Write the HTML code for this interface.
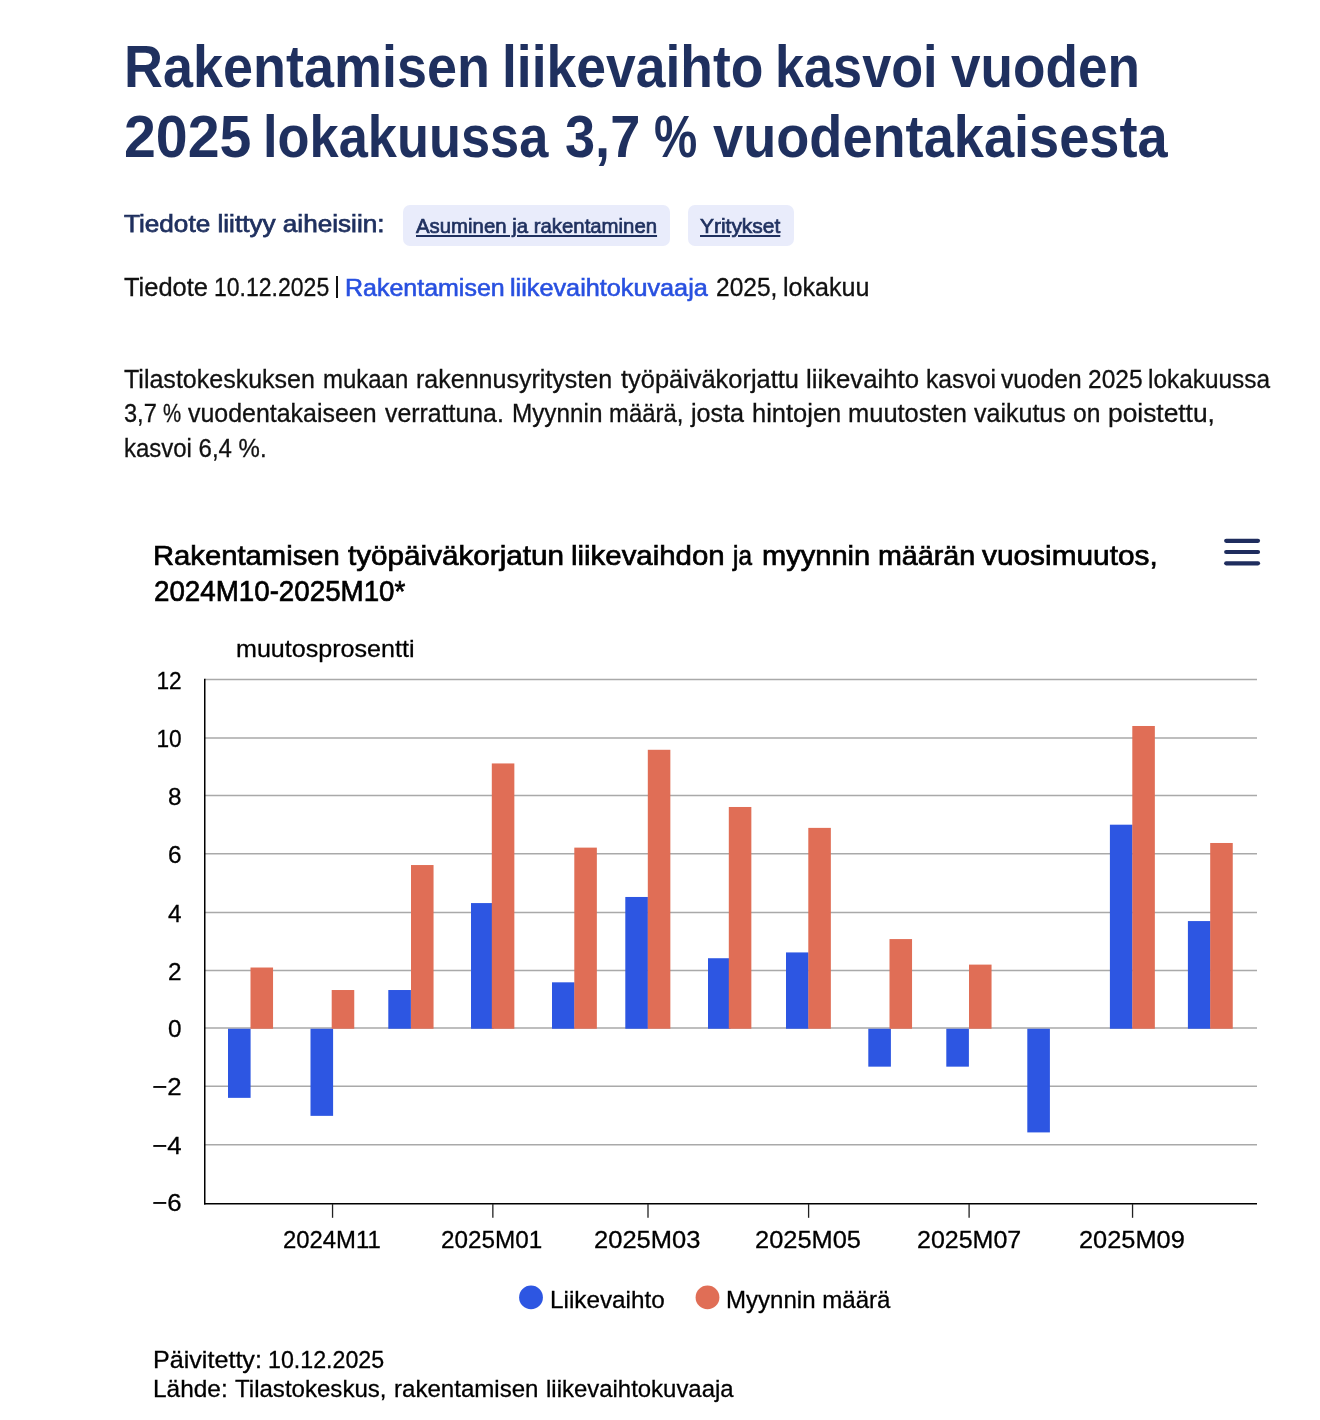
<!DOCTYPE html>
<html lang="fi"><head><meta charset="utf-8"><title>Rakentamisen liikevaihto</title>
<style>
html,body{margin:0;padding:0;background:#fff}
body{width:1320px;height:1420px;position:relative;overflow:hidden;font-family:"Liberation Sans",sans-serif;}
.t{position:absolute;white-space:nowrap;line-height:0;transform-origin:0 0;margin:0;padding:0;text-decoration:none;display:block}
.pill{position:absolute;background:#e9ecfb;border-radius:7px}
svg{position:absolute;left:0;top:0}
svg text{font-family:"Liberation Sans",sans-serif;}
#page{position:absolute;left:0;top:0;width:1320px;height:1420px;will-change:transform}
</style></head><body><div id="page">
<div class="pill" style="left:403px;top:205px;width:266.5px;height:41px"></div>
<div class="pill" style="left:688px;top:205px;width:105.7px;height:41px"></div>
<div style="position:absolute;left:335.9px;top:276px;width:2.3px;height:22px;background:#111"></div>
<div class="t" style="left:124.07px;top:67.00px;font-size:59.4px;font-weight:700;color:#1f305f;transform:scaleX(0.9086);">Rakentamisen</div>
<div class="t" style="left:501.90px;top:67.00px;font-size:59.4px;font-weight:700;color:#1f305f;transform:scaleX(0.9001);">liikevaihto</div>
<div class="t" style="left:775.48px;top:67.00px;font-size:59.4px;font-weight:700;color:#1f305f;transform:scaleX(0.8794);">kasvoi</div>
<div class="t" style="left:951.30px;top:67.00px;font-size:59.4px;font-weight:700;color:#1f305f;transform:scaleX(0.8947);">vuoden</div>
<div class="t" style="left:123.57px;top:137.00px;font-size:59.4px;font-weight:700;color:#1f305f;transform:scaleX(0.9644);">2025</div>
<div class="t" style="left:263.27px;top:137.00px;font-size:59.4px;font-weight:700;color:#1f305f;transform:scaleX(0.8821);">lokakuussa</div>
<div class="t" style="left:564.59px;top:137.00px;font-size:59.4px;font-weight:700;color:#1f305f;transform:scaleX(0.9116);">3,7</div>
<div class="t" style="left:653.68px;top:137.00px;font-size:59.4px;font-weight:700;color:#1f305f;transform:scaleX(0.8196);">%</div>
<div class="t" style="left:712.50px;top:137.00px;font-size:59.4px;font-weight:700;color:#1f305f;transform:scaleX(0.9121);">vuodentakaisesta</div>
<b class="t" style="left:124.40px;top:224.00px;font-size:24.8px;font-weight:400;color:#1f305f;transform:scaleX(1.0540);-webkit-text-stroke:0.75px #1f305f;">Tiedote liittyy aiheisiin:</b>
<a class="t" style="left:416.34px;top:226.00px;font-size:20.8px;font-weight:400;color:#1f305f;transform:scaleX(0.9790);-webkit-text-stroke:0.7px #1f305f;text-decoration:underline;text-decoration-thickness:2px;text-underline-offset:2.2px;">Asuminen ja rakentaminen</a>
<a class="t" style="left:700.15px;top:226.00px;font-size:20.8px;font-weight:400;color:#1f305f;transform:scaleX(1.0067);-webkit-text-stroke:0.7px #1f305f;text-decoration:underline;text-decoration-thickness:2px;text-underline-offset:2.2px;">Yritykset</a>
<span class="t" style="left:124.35px;top:287.00px;font-size:25.0px;font-weight:400;color:#111;transform:scaleX(1.0189);-webkit-text-stroke:0.3px #111;">Tiedote</span>
<span class="t" style="left:213.72px;top:287.00px;font-size:25.0px;font-weight:400;color:#111;transform:scaleX(0.9205);-webkit-text-stroke:0.3px #111;">10.12.2025</span>
<a class="t" style="left:344.69px;top:288.00px;font-size:24.8px;font-weight:400;color:#2850e0;transform:scaleX(1.0076);-webkit-text-stroke:0.6px #2850e0;">Rakentamisen</a>
<a class="t" style="left:510.49px;top:288.00px;font-size:24.8px;font-weight:400;color:#2850e0;transform:scaleX(1.0177);-webkit-text-stroke:0.6px #2850e0;">liikevaihtokuvaaja</a>
<span class="t" style="left:715.87px;top:287.00px;font-size:25.0px;font-weight:400;color:#111;transform:scaleX(0.9814);-webkit-text-stroke:0.3px #111;">2025,</span>
<span class="t" style="left:783.05px;top:287.00px;font-size:25.0px;font-weight:400;color:#111;transform:scaleX(1.0040);-webkit-text-stroke:0.3px #111;">lokakuu</span>
<span class="t" style="left:123.75px;top:379.00px;font-size:25.0px;font-weight:400;color:#111;transform:scaleX(1.0004);-webkit-text-stroke:0.3px #111;">Tilastokeskuksen</span>
<span class="t" style="left:322.79px;top:379.00px;font-size:25.0px;font-weight:400;color:#111;transform:scaleX(0.9584);-webkit-text-stroke:0.3px #111;">mukaan</span>
<span class="t" style="left:416.15px;top:379.00px;font-size:25.0px;font-weight:400;color:#111;transform:scaleX(1.0009);-webkit-text-stroke:0.3px #111;">rakennusyritysten</span>
<span class="t" style="left:621.05px;top:379.00px;font-size:25.0px;font-weight:400;color:#111;transform:scaleX(1.0161);-webkit-text-stroke:0.3px #111;">työpäiväkorjattu</span>
<span class="t" style="left:806.43px;top:379.00px;font-size:25.0px;font-weight:400;color:#111;transform:scaleX(1.0289);-webkit-text-stroke:0.3px #111;">liikevaihto</span>
<span class="t" style="left:925.86px;top:379.00px;font-size:25.0px;font-weight:400;color:#111;transform:scaleX(0.9882);-webkit-text-stroke:0.3px #111;">kasvoi</span>
<span class="t" style="left:1001.05px;top:379.00px;font-size:25.0px;font-weight:400;color:#111;transform:scaleX(0.9826);-webkit-text-stroke:0.3px #111;">vuoden</span>
<span class="t" style="left:1087.67px;top:379.00px;font-size:25.0px;font-weight:400;color:#111;transform:scaleX(0.9813);-webkit-text-stroke:0.3px #111;">2025</span>
<span class="t" style="left:1148.27px;top:379.00px;font-size:25.0px;font-weight:400;color:#111;transform:scaleX(0.9753);-webkit-text-stroke:0.3px #111;">lokakuussa</span>
<span class="t" style="left:123.74px;top:413.00px;font-size:25.0px;font-weight:400;color:#111;transform:scaleX(0.9429);-webkit-text-stroke:0.3px #111;">3,7</span>
<span class="t" style="left:162.52px;top:413.00px;font-size:25.0px;font-weight:400;color:#111;transform:scaleX(0.8161);-webkit-text-stroke:0.3px #111;">%</span>
<span class="t" style="left:188.35px;top:413.00px;font-size:25.0px;font-weight:400;color:#111;transform:scaleX(0.9972);-webkit-text-stroke:0.3px #111;">vuodentakaiseen</span>
<span class="t" style="left:385.35px;top:413.00px;font-size:25.0px;font-weight:400;color:#111;transform:scaleX(0.9944);-webkit-text-stroke:0.3px #111;">verrattuna.</span>
<span class="t" style="left:512.10px;top:413.00px;font-size:25.0px;font-weight:400;color:#111;transform:scaleX(0.9714);-webkit-text-stroke:0.3px #111;">Myynnin</span>
<span class="t" style="left:609.49px;top:413.00px;font-size:25.0px;font-weight:400;color:#111;transform:scaleX(0.9553);-webkit-text-stroke:0.3px #111;">määrä,</span>
<span class="t" style="left:690.86px;top:413.00px;font-size:25.0px;font-weight:400;color:#111;transform:scaleX(1.0055);-webkit-text-stroke:0.3px #111;">josta</span>
<span class="t" style="left:751.83px;top:413.00px;font-size:25.0px;font-weight:400;color:#111;transform:scaleX(1.0190);-webkit-text-stroke:0.3px #111;">hintojen</span>
<span class="t" style="left:847.93px;top:413.00px;font-size:25.0px;font-weight:400;color:#111;transform:scaleX(1.0188);-webkit-text-stroke:0.3px #111;">muutosten</span>
<span class="t" style="left:974.35px;top:413.00px;font-size:25.0px;font-weight:400;color:#111;transform:scaleX(1.0010);-webkit-text-stroke:0.3px #111;">vaikutus</span>
<span class="t" style="left:1073.36px;top:413.00px;font-size:25.0px;font-weight:400;color:#111;transform:scaleX(0.9846);-webkit-text-stroke:0.3px #111;">on</span>
<span class="t" style="left:1107.60px;top:413.00px;font-size:25.0px;font-weight:400;color:#111;transform:scaleX(1.0536);-webkit-text-stroke:0.3px #111;">poistettu,</span>
<span class="t" style="left:123.69px;top:448.00px;font-size:25.0px;font-weight:400;color:#111;transform:scaleX(0.9587);-webkit-text-stroke:0.3px #111;">kasvoi 6,4 %.</span>
<span class="t" style="left:153.00px;top:555.00px;font-size:28.3px;font-weight:400;color:#000;transform:scaleX(1.0324);-webkit-text-stroke:0.7px #000;">Rakentamisen</span>
<span class="t" style="left:347.77px;top:555.00px;font-size:28.3px;font-weight:400;color:#000;transform:scaleX(1.0486);-webkit-text-stroke:0.7px #000;">työpäiväkorjatun</span>
<span class="t" style="left:571.42px;top:555.00px;font-size:28.3px;font-weight:400;color:#000;transform:scaleX(1.0389);-webkit-text-stroke:0.7px #000;">liikevaihdon</span>
<span class="t" style="left:733.26px;top:555.00px;font-size:28.3px;font-weight:400;color:#000;transform:scaleX(0.8588);-webkit-text-stroke:0.7px #000;">ja</span>
<span class="t" style="left:761.73px;top:555.00px;font-size:28.3px;font-weight:400;color:#000;transform:scaleX(1.0268);-webkit-text-stroke:0.7px #000;">myynnin</span>
<span class="t" style="left:877.54px;top:555.00px;font-size:28.3px;font-weight:400;color:#000;transform:scaleX(1.0127);-webkit-text-stroke:0.7px #000;">määrän</span>
<span class="t" style="left:981.87px;top:555.00px;font-size:28.3px;font-weight:400;color:#000;transform:scaleX(1.0540);-webkit-text-stroke:0.7px #000;">vuosimuutos,</span>
<span class="t" style="left:153.69px;top:591.00px;font-size:29.5px;font-weight:400;color:#000;transform:scaleX(0.9400);-webkit-text-stroke:0.7px #000;">2024M10-2025M10*</span>
<span class="t" style="left:282.97px;top:1240.00px;font-size:24.5px;font-weight:400;color:#000;transform:scaleX(0.9746);-webkit-text-stroke:0.3px #000;">2024M11</span>
<span class="t" style="left:441.46px;top:1240.00px;font-size:24.5px;font-weight:400;color:#000;transform:scaleX(0.9907);-webkit-text-stroke:0.3px #000;">2025M01</span>
<span class="t" style="left:594.41px;top:1240.00px;font-size:24.5px;font-weight:400;color:#000;transform:scaleX(1.0413);-webkit-text-stroke:0.3px #000;">2025M03</span>
<span class="t" style="left:755.02px;top:1240.00px;font-size:24.5px;font-weight:400;color:#000;transform:scaleX(1.0373);-webkit-text-stroke:0.3px #000;">2025M05</span>
<span class="t" style="left:916.53px;top:1240.00px;font-size:24.5px;font-weight:400;color:#000;transform:scaleX(1.0205);-webkit-text-stroke:0.3px #000;">2025M07</span>
<span class="t" style="left:1078.82px;top:1240.00px;font-size:24.5px;font-weight:400;color:#000;transform:scaleX(1.0353);-webkit-text-stroke:0.3px #000;">2025M09</span>
<span class="t" style="left:235.53px;top:649.00px;font-size:24.5px;font-weight:400;color:#000;transform:scaleX(1.0240);-webkit-text-stroke:0.3px #000;">muutosprosentti</span>
<span class="t" style="left:550.17px;top:1300.00px;font-size:24.5px;font-weight:400;color:#000;transform:scaleX(0.9908);-webkit-text-stroke:0.3px #000;">Liikevaihto</span>
<span class="t" style="left:726.38px;top:1300.00px;font-size:24.5px;font-weight:400;color:#000;transform:scaleX(0.9816);-webkit-text-stroke:0.3px #000;">Myynnin määrä</span>
<span class="t" style="left:152.60px;top:1360.00px;font-size:24.5px;font-weight:400;color:#000;transform:scaleX(1.0253);-webkit-text-stroke:0.3px #000;">Päivitetty:</span>
<span class="t" style="left:268.09px;top:1360.00px;font-size:24.5px;font-weight:400;color:#000;transform:scaleX(0.9473);-webkit-text-stroke:0.3px #000;">10.12.2025</span>
<span class="t" style="left:152.66px;top:1389.00px;font-size:24.5px;font-weight:400;color:#000;transform:scaleX(0.9968);-webkit-text-stroke:0.3px #000;">Lähde:</span>
<span class="t" style="left:234.95px;top:1389.00px;font-size:24.5px;font-weight:400;color:#000;transform:scaleX(0.9817);-webkit-text-stroke:0.3px #000;">Tilastokeskus,</span>
<span class="t" style="left:394.16px;top:1389.00px;font-size:24.5px;font-weight:400;color:#000;transform:scaleX(0.9825);-webkit-text-stroke:0.3px #000;">rakentamisen</span>
<span class="t" style="left:545.97px;top:1389.00px;font-size:24.5px;font-weight:400;color:#000;transform:scaleX(0.9770);-webkit-text-stroke:0.3px #000;">liikevaihtokuvaaja</span>
<svg width="1320" height="1420" viewBox="0 0 1320 1420">
<g stroke="#a9a9a9" stroke-width="1.5" fill="none">
<path d="M205.0 1144.70H1257.0"/>
<path d="M205.0 1086.20H1257.0"/>
<path d="M205.0 1027.90H1257.0"/>
<path d="M205.0 970.50H1257.0"/>
<path d="M205.0 912.40H1257.0"/>
<path d="M205.0 853.70H1257.0"/>
<path d="M205.0 795.40H1257.0"/>
<path d="M205.0 738.10H1257.0"/>
<path d="M205.0 679.50H1257.0"/>
</g>
<g fill="#2d56e2">
<rect x="228.00" y="1028.75" width="22.6" height="69.11"/>
<rect x="310.50" y="1028.75" width="22.6" height="87.11"/>
<rect x="388.30" y="990.02" width="22.6" height="38.73"/>
<rect x="471.00" y="903.07" width="22.6" height="125.68"/>
<rect x="552.00" y="982.32" width="22.6" height="46.43"/>
<rect x="625.30" y="896.97" width="22.6" height="131.78"/>
<rect x="708.00" y="958.23" width="22.6" height="70.52"/>
<rect x="786.00" y="952.42" width="22.6" height="76.33"/>
<rect x="868.30" y="1028.75" width="22.6" height="37.91"/>
<rect x="946.30" y="1028.75" width="22.6" height="37.91"/>
<rect x="1027.30" y="1028.75" width="22.6" height="103.66"/>
<rect x="1109.90" y="824.69" width="22.6" height="204.06"/>
<rect x="1187.90" y="921.07" width="22.6" height="107.68"/>
</g>
<g fill="#e06e56">
<rect x="250.50" y="967.52" width="22.55" height="61.23"/>
<rect x="331.70" y="990.02" width="22.55" height="38.73"/>
<rect x="411.00" y="865.04" width="22.55" height="163.71"/>
<rect x="491.80" y="763.44" width="22.55" height="265.31"/>
<rect x="574.30" y="847.62" width="22.55" height="181.13"/>
<rect x="647.80" y="749.79" width="22.55" height="278.96"/>
<rect x="728.80" y="806.98" width="22.55" height="221.77"/>
<rect x="808.30" y="827.88" width="22.55" height="200.87"/>
<rect x="889.50" y="939.07" width="22.55" height="89.68"/>
<rect x="969.00" y="964.61" width="22.55" height="64.14"/>
<rect x="1132.30" y="725.99" width="22.55" height="302.76"/>
<rect x="1210.20" y="842.98" width="22.55" height="185.77"/>
</g>
<path d="M204.75 678.8V1204.4" stroke="#000" stroke-width="1.5" fill="none"/>
<path d="M204 1203.65H1257.0" stroke="#000" stroke-width="1.5" fill="none"/>
<g stroke="#222" stroke-width="1.3" fill="none">
<path d="M332.55 1204V1217.8"/>
<path d="M492.85 1204V1217.8"/>
<path d="M648.00 1204V1217.8"/>
<path d="M808.60 1204V1217.8"/>
<path d="M969.10 1204V1217.8"/>
<path d="M1132.55 1204V1217.8"/>
</g>
<g font-size="24.3" fill="#000" stroke="#000" stroke-width="0.3" text-anchor="end">
<text x="181.6" y="1211.40" textLength="29.4" lengthAdjust="spacingAndGlyphs">−6</text>
<text x="181.6" y="1153.80" textLength="29.4" lengthAdjust="spacingAndGlyphs">−4</text>
<text x="181.6" y="1095.30" textLength="29.4" lengthAdjust="spacingAndGlyphs">−2</text>
<text x="181.6" y="1037.00">0</text>
<text x="181.6" y="979.60">2</text>
<text x="181.6" y="921.50">4</text>
<text x="181.6" y="862.80">6</text>
<text x="181.6" y="804.50">8</text>
<text x="181.6" y="747.20" textLength="25.2" lengthAdjust="spacingAndGlyphs">10</text>
<text x="181.6" y="688.60" textLength="25.2" lengthAdjust="spacingAndGlyphs">12</text>
</g>
<circle cx="531" cy="1297.4" r="11.9" fill="#2d56e2"/>
<circle cx="707.5" cy="1297.4" r="11.9" fill="#e06e56"/>
<g stroke="#1f2d5e" stroke-width="4.2" stroke-linecap="round" fill="none">
<path d="M1226.2 540.8H1258"/>
<path d="M1226.2 552.0H1258"/>
<path d="M1226.2 563.3H1258"/>
</g>
</svg>
</div></body></html>
